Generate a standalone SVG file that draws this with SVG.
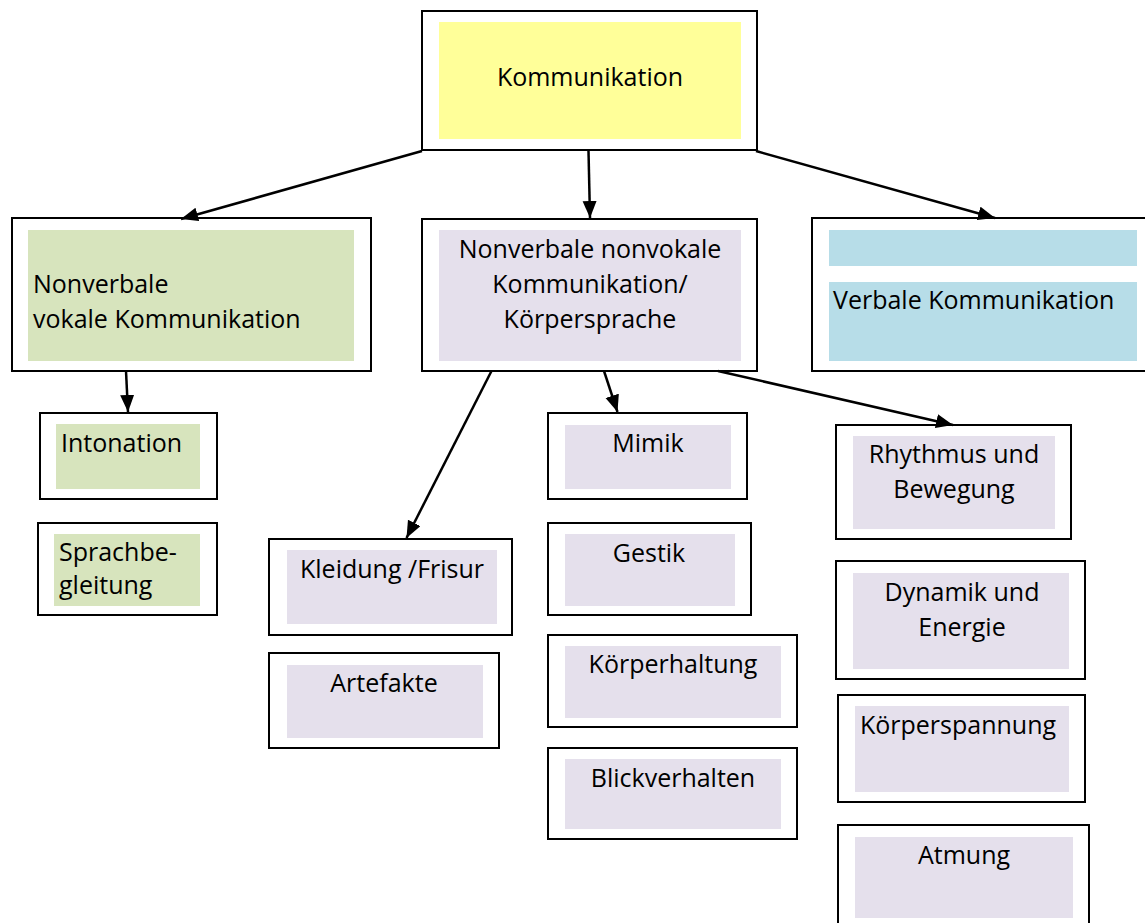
<svg xmlns="http://www.w3.org/2000/svg" width="1145" height="923" viewBox="0 0 1145 923">
<style>
.o{fill:#fff;stroke:#000;stroke-width:2}
.y{fill:#FFFF99}
.g{fill:#D7E4BD}
.p{fill:#E5E0EC}
.b{fill:#B7DDE8}
text{font-family:"Open Sans","Liberation Sans",sans-serif;font-size:25px;fill:#000}
.c{text-anchor:middle}
.e{stroke:#000;stroke-width:2.5;fill:none;marker-end:url(#ah)}
</style>
<defs>
<marker id="ah" markerUnits="userSpaceOnUse" markerWidth="18" markerHeight="15" refX="17" refY="7" orient="auto">
<path d="M0,0 L17,7 L0,14 z" fill="#000"/>
</marker>
</defs>
<rect width="1145" height="923" fill="#fff"/>
<g id="n-kommunikation">
<rect class="o" x="422" y="11" width="335" height="139"/>
<rect class="y" x="439" y="22" width="302" height="117"/>
<text class="c" x="590" y="86">Kommunikation</text>
</g>
<g id="n-vokal">
<rect class="o" x="12" y="218" width="359" height="153"/>
<rect class="g" x="28" y="230" width="326" height="131"/>
<text x="33" y="293">Nonverbale</text>
<text x="33" y="328">vokale Kommunikation</text>
</g>
<g id="n-nonvokal">
<rect class="o" x="422" y="219" width="335" height="152"/>
<rect class="p" x="439" y="230" width="302" height="131"/>
<text class="c" x="590" y="258">Nonverbale nonvokale</text>
<text class="c" x="590" y="293">Kommunikation/</text>
<text class="c" x="590" y="328">Körpersprache</text>
</g>
<g id="n-verbal">
<rect class="o" x="812" y="218" width="340" height="153"/>
<rect class="b" x="829" y="230" width="308" height="36"/>
<rect class="b" x="829" y="282" width="308" height="79"/>
<text x="833" y="309">Verbale Kommunikation</text>
</g>
<g id="n-intonation">
<rect class="o" x="40" y="413" width="177" height="86"/>
<rect class="g" x="56" y="424" width="144" height="65"/>
<text x="61" y="452">Intonation</text>
</g>
<g id="n-sprachbegleitung">
<rect class="o" x="38" y="523" width="179" height="92"/>
<rect class="g" x="54" y="534" width="146" height="72"/>
<text x="59" y="561">Sprachbe-</text>
<text x="59" y="594">gleitung</text>
</g>
<g id="n-kleidung">
<rect class="o" x="269" y="539" width="243" height="96"/>
<rect class="p" x="287" y="550" width="210" height="74"/>
<text class="c" x="392" y="578">Kleidung /Frisur</text>
</g>
<g id="n-artefakte">
<rect class="o" x="269" y="653" width="230" height="95"/>
<rect class="p" x="287" y="665" width="196" height="73"/>
<text class="c" x="384" y="692">Artefakte</text>
</g>
<g id="n-mimik">
<rect class="o" x="548" y="413" width="199" height="86"/>
<rect class="p" x="565" y="425" width="166" height="64"/>
<text class="c" x="648" y="452">Mimik</text>
</g>
<g id="n-gestik">
<rect class="o" x="548" y="523" width="203" height="92"/>
<rect class="p" x="565" y="534" width="170" height="72"/>
<text class="c" x="649" y="562">Gestik</text>
</g>
<g id="n-koerperhaltung">
<rect class="o" x="548" y="635" width="249" height="92"/>
<rect class="p" x="565" y="646" width="216" height="72"/>
<text class="c" x="673" y="673">Körperhaltung</text>
</g>
<g id="n-blickverhalten">
<rect class="o" x="548" y="748" width="249" height="91"/>
<rect class="p" x="565" y="759" width="216" height="70"/>
<text class="c" x="673" y="787">Blickverhalten</text>
</g>
<g id="n-rhythmus">
<rect class="o" x="836" y="425" width="235" height="114"/>
<rect class="p" x="853" y="436" width="202" height="93"/>
<text class="c" x="954" y="463">Rhythmus und</text>
<text class="c" x="954" y="498">Bewegung</text>
</g>
<g id="n-dynamik">
<rect class="o" x="836" y="561" width="249" height="118"/>
<rect class="p" x="853" y="573" width="216" height="96"/>
<text class="c" x="962" y="601">Dynamik und</text>
<text class="c" x="962" y="636">Energie</text>
</g>
<g id="n-koerperspannung">
<rect class="o" x="838" y="695" width="247" height="107"/>
<rect class="p" x="855" y="706" width="214" height="86"/>
<text class="c" x="958" y="734">Körperspannung</text>
</g>
<g id="n-atmung">
<rect class="o" x="838" y="825" width="251" height="110"/>
<rect class="p" x="855" y="837" width="218" height="81"/>
<text class="c" x="964" y="864">Atmung</text>
</g>
<g id="connectors">
<line class="e" x1="422" y1="151" x2="181" y2="219"/>
<line class="e" x1="588.5" y1="151" x2="590" y2="218"/>
<line class="e" x1="756" y1="151" x2="995" y2="218"/>
<line class="e" x1="126" y1="371" x2="128" y2="412"/>
<line class="e" x1="491.5" y1="371" x2="406.5" y2="538"/>
<line class="e" x1="604" y1="371" x2="617.5" y2="412"/>
<line class="e" x1="718" y1="371" x2="953" y2="425"/>
</g>
</svg>
